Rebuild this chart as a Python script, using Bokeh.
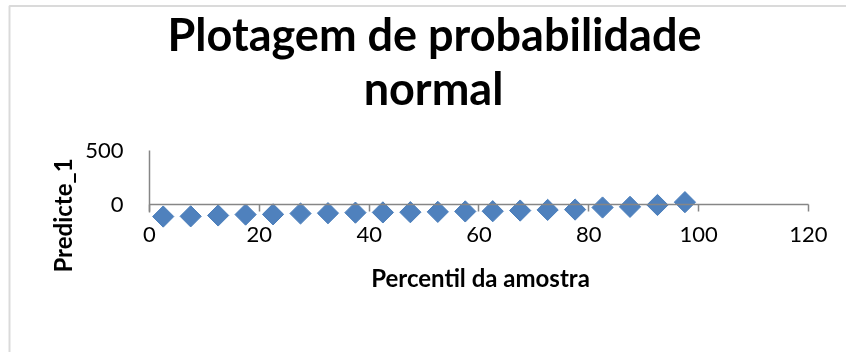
import numpy as np
from bokeh.plotting import figure
from bokeh.models import ColumnDataSource, FixedTicker, Label, Range1d, BoxAnnotation
from bokeh.embed import file_html
from bokeh.resources import INLINE

# ---- data ----
percentil = [2.5, 7.5, 12.5, 17.5, 22.5, 27.5, 32.5, 37.5, 42.5, 47.5,
             52.5, 57.5, 62.5, 67.5, 72.5, 77.5, 82.5, 87.5, 92.5, 97.5]
predicte = [-106, -104, -96, -88, -86, -78, -75, -70, -68, -66,
            -63, -59, -57, -51, -45, -42, -23, -17, 0, 26]
x_ticks = [0, 20, 40, 60, 80, 100, 120]
y_ticks = [0, 500]
title_lines = ["Plotagem de probabilidade", "normal"]
x_title = "Percentil da amostra"
y_title = "Predicte_1"

FONT = "Lato"
AXIS_GRAY = "#868686"

# The frame covers the whole 846x352 window; the side panels that hold
# the (fixed-location) axes are pushed outside the window.
VW, VH = 846, 352
PAD_L, PAD_B = 200, 100

p = figure(width=VW + PAD_L, height=VH + PAD_B, output_backend="svg",
           toolbar_location=None, title=None,
           x_range=Range1d(-27.13, 126.92), y_range=Range1d(-1353.2, 1876.1),
           min_border_left=PAD_L, min_border_bottom=PAD_B,
           min_border_top=0, min_border_right=0)
p.styles = {"position": "fixed", "left": f"-{PAD_L}px", "top": "0px"}
p.outline_line_color = None
p.xgrid.visible = False
p.ygrid.visible = False
p.background_fill_color = "white"
p.border_fill_color = "white"

src = ColumnDataSource(dict(x=percentil, y=predicte))
p.scatter("x", "y", source=src, marker="square", size=15, angle=np.pi / 4,
          fill_color="#4F81BD", line_color="#4A7EBB", line_width=1)

# x axis crossing at y = 0
xa = p.xaxis[0]
xa.fixed_location = 0
xa.bounds = (0, 120)
xa.ticker = FixedTicker(ticks=x_ticks)
xa.minor_tick_line_color = None
xa.major_tick_in = 0
xa.major_tick_out = 7
xa.major_tick_line_color = AXIS_GRAY
xa.major_tick_line_width = 1.5
xa.axis_line_color = AXIS_GRAY
xa.axis_line_width = 1.5
xa.major_label_standoff = 15
xa.major_label_text_font = FONT
xa.major_label_text_font_size = "22px"
xa.major_label_text_color = "black"

# y axis crossing at x = 0
ya = p.yaxis[0]
ya.fixed_location = 0
ya.bounds = (-69, 500)
ya.ticker = FixedTicker(ticks=y_ticks)
ya.minor_tick_line_color = None
ya.major_tick_in = 0
ya.major_tick_out = 0
ya.axis_line_color = AXIS_GRAY
ya.axis_line_width = 1.5
ya.major_label_standoff = 26
ya.major_label_text_font = FONT
ya.major_label_text_font_size = "22px"
ya.major_label_text_color = "black"

# chart-area border (left and top edges visible in the window)
p.add_layout(BoxAnnotation(left=9, right=VW + 50, top=VH - 5.5, bottom=-50,
                           left_units="screen", right_units="screen",
                           top_units="screen", bottom_units="screen",
                           fill_alpha=0, line_color=AXIS_GRAY, line_width=2))


def add_text(txt, wx, wy, size, angle=0.0):
    # wx, wy: window position from top-left -> frame screen units (y up)
    p.add_layout(Label(x=wx, y=VH - wy, x_units="screen", y_units="screen",
                       text=txt, text_align="center", text_baseline="middle",
                       angle=angle,
                       text_font=FONT, text_font_style="bold", text_font_size=size,
                       text_color="black"))


add_text(title_lines[0], 434, 33, "45px")
add_text(title_lines[1], 433, 87, "45px")
add_text(x_title, 480, 277, "24px")
add_text(y_title, 62, 215, "24px", angle=np.pi / 2)

open("out.html", "w").write(file_html(p, INLINE))
